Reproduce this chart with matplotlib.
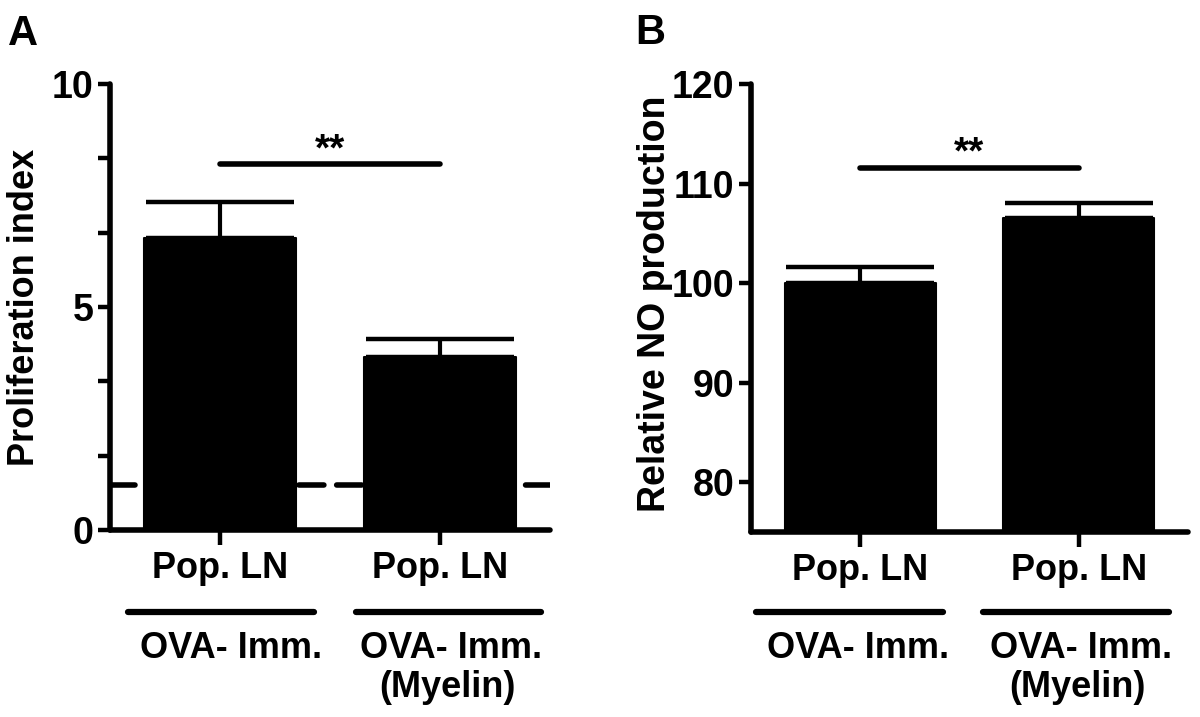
import matplotlib
matplotlib.use("Agg")
import matplotlib.pyplot as plt
import matplotlib.transforms as mtransforms
from matplotlib.ticker import MultipleLocator

plt.rcParams['font.family'] = ['Liberation Sans', 'DejaVu Sans']
plt.rcParams['font.weight'] = 'bold'

# data
groups = ["Pop. LN", "Pop. LN"]
group_labels = [["OVA- Imm."], ["OVA- Imm.", "(Myelin)"]]
prolif_mean = [6.55, 3.88]
prolif_sem = [0.80, 0.40]
prolif_baseline = 1.0
prolif_sig_y = 8.2
no_mean = [100.0, 106.5]
no_sem = [1.6, 1.5]
no_sig_y = 111.6
sig_text = "**"

FS = 26
LW = 4.0

fig = plt.figure(figsize=(12, 7.17), dpi=100)
axA = fig.add_axes([110 / 1200, (717 - 530) / 717, 440 / 1200, 446 / 717])
axB = fig.add_axes([751 / 1200, (717 - 532) / 717, 437 / 1200, 448 / 717])


def style_axis(ax):
    for side in ["top", "right"]:
        ax.spines[side].set_visible(False)
    for side in ["left", "bottom"]:
        ax.spines[side].set_linewidth(LW)
        ax.spines[side].set_capstyle("round")
    ax.tick_params(axis="y", which="major", length=9, width=3.2, pad=3, labelsize=27)
    ax.tick_params(axis="y", which="minor", length=9, width=3.2)
    ax.tick_params(axis="x", length=11, width=3.2, pad=4, labelsize=FS)
    for lab in ax.get_xticklabels() + ax.get_yticklabels():
        lab.set_fontweight("bold")


def draw_panel(ax, means, sems, sig_y, spans, text_x):
    x = list(range(len(means)))
    ax.bar(x, means, width=0.69, color="black", edgecolor="black",
           linewidth=1.5, joinstyle="round", zorder=3)
    ax.errorbar(x, means, yerr=[[0] * len(sems), sems], fmt="none",
                ecolor="black", elinewidth=3, capsize=53, capthick=3.2, zorder=2)
    ax.plot([0, 1], [sig_y, sig_y], color="black", lw=LW,
            solid_capstyle="round", zorder=4)
    ax.annotate(sig_text, (0.5, sig_y), xytext=(0, 3), textcoords="offset points",
                ha="center", va="baseline", fontsize=28, fontweight="bold")
    ax.set_xlim(-0.5, 1.5)
    ax.set_xticks(x)
    ax.set_xticklabels(groups)
    trans = mtransforms.blended_transform_factory(ax.transData, fig.transFigure)
    baselines = [1 - 658 / 717, 1 - 697 / 717]
    for (x0, x1), tx, lines in zip(spans, text_x, group_labels):
        ax.plot([x0, x1], [1 - 612 / 717] * 2, color="black", lw=4.5,
                solid_capstyle="round", transform=trans, clip_on=False)
        for txt, yb, dx in zip(lines, baselines, [0, -0.015]):
            ax.text(tx + dx, yb, txt, transform=trans, ha="center",
                    va="baseline", fontsize=FS, fontweight="bold")


# panel A
draw_panel(axA, prolif_mean, prolif_sem, prolif_sig_y,
           [(-0.42, 0.425), (0.616, 1.46)], [0.05, 1.05])
axA.axhline(prolif_baseline, color="black", lw=LW, ls=(0, (4.5, 2.3)),
            dash_capstyle="round", zorder=1)
axA.set_ylim(0, 10)
axA.yaxis.set_major_locator(MultipleLocator(5))
axA.yaxis.set_minor_locator(MultipleLocator(10 / 6))
axA.set_ylabel("Proliferation index", fontsize=FS, fontweight="bold")
axA.yaxis.set_label_coords(-0.155, 0.5)
style_axis(axA)

# panel B
draw_panel(axB, no_mean, no_sem, no_sig_y,
           [(-0.475, 0.378), (0.562, 1.415)], [-0.01, 1.01])
axB.set_ylim(75, 120)
axB.set_yticks([80, 90, 100, 110, 120])
axB.set_ylabel("Relative NO production", fontsize=27, fontweight="bold")
axB.yaxis.set_label_coords(-0.178, 0.51)
style_axis(axB)

fig.text(8 / 1200, 1 - 45 / 717, "A", fontsize=30, fontweight="bold", va="baseline")
fig.text(635 / 1200, 1 - 44 / 717, "B", fontsize=30, fontweight="bold", va="baseline")

fig.savefig("out.png", dpi=100)
